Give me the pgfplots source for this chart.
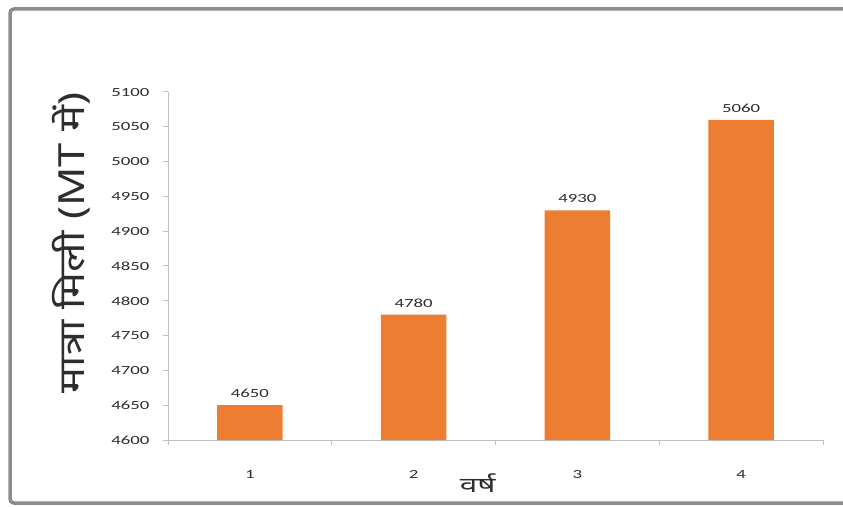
\documentclass[border=0pt]{standalone}
\usepackage{fontspec}
\usepackage{pgfplots}
\pgfplotsset{compat=1.18}
\setmainfont{Carlito}
\newfontfamily\tickfont[FakeStretch=1.5]{Carlito}
\newfontfamily\devfont[Script=Devanagari]{Noto Sans}
\definecolor{barorange}{RGB}{237,125,49}
\definecolor{axgray}{RGB}{191,191,191}
\definecolor{txtgray}{RGB}{45,45,45}
\definecolor{bordergray}{RGB}{140,140,140}
\begin{document}
\begin{tikzpicture}[x=1pt,y=1pt]
\useasboundingbox (0,0) rectangle (843,506);
\draw[line width=3.5pt, bordergray, rounded corners=4pt] (843,3) -- (10,3) -- (10,497) -- (843,497);
\begin{axis}[
  at={(168pt,66pt)}, anchor=south west,
  scale only axis, width=655pt, height=348pt,
  xmin=0.5, xmax=4.5, ymin=4600, ymax=5100,
  axis x line*=bottom, axis y line*=left,
  axis line style={axgray, line width=1pt},
  xtick={1,2,3,4},
  minor xtick={0.5,1.5,2.5,3.5,4.5},
  ytick distance=50,
  tick align=outside,
  major tick length=5pt, minor tick length=5pt,
  x tick style={draw=none},
  minor x tick style={draw=axgray, line width=1pt},
  y tick style={axgray, line width=1pt},
  tick label style={font=\tickfont\fontsize{12.5}{14}\selectfont, text=txtgray},
  /pgf/number format/assume math mode=true,
  /pgf/number format/set thousands separator={},
  xticklabel style={yshift=-22pt},
  yticklabel style={xshift=-10pt},
  xlabel={\devfont\scalebox{1.5}[1]{\fontsize{21}{24}\selectfont वर्ष}},
  xlabel style={at={(axis description cs:0.473,-0.124)}, anchor=center, text=txtgray},
  ylabel={\devfont\scalebox{1.45}[1.2]{\fontsize{30}{34}\selectfont मात्रा मिली (MT में)}},
  ylabel style={at={(axis description cs:-0.147,0.566)}, anchor=center, rotate=0, text=txtgray},
  nodes near coords,
  every node near coord/.append style={font=\tickfont\fontsize{12.5}{14}\selectfont, text=txtgray, yshift=4pt},
  clip=false,
]
\addplot[ybar, bar width=0.4, fill=barorange, draw=none] coordinates {(1,4650) (2,4780) (3,4930) (4,5060)};
\end{axis}
\end{tikzpicture}
\end{document}
